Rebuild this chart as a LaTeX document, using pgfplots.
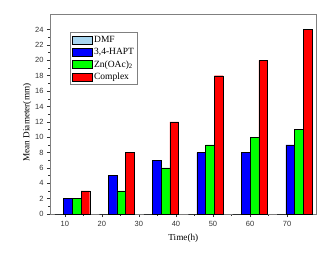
\documentclass[border=0pt]{standalone}
\usepackage{pgfplots}
\pgfplotsset{compat=1.18}
\usepackage{fontspec}
\setmainfont{Liberation Serif}
\newfontfamily\arialfont{Liberation Sans}
\definecolor{dmf}{RGB}{168,214,240}
\definecolor{framegray}{RGB}{128,128,128}
\begin{document}
\begin{tikzpicture}
\begin{axis}[
  at={(0,0)}, anchor=south west,
  scale only axis, width=266.7pt, height=199.7pt,
  xmin=6, xmax=78, ymin=0, ymax=26,
  xtick={10,20,...,70}, ytick={0,2,...,24},
  minor x tick num=1, minor y tick num=1,
  tick pos=left, tick align=outside,
  major tick length=3pt, minor tick length=1.8pt,
  every tick/.style={black!80, line width=0.5pt},
  axis line style={framegray, line width=0.7pt},
  /pgf/number format/assume math mode=true,
  ticklabel style={font=\arialfont\fontsize{7.5}{8}\selectfont, text=black!80},
  xticklabel style={yshift=-1pt},
  xlabel={Time(h)}, ylabel={Mean Diameter(mm)},
  label style={font=\fontsize{9.2}{10}\selectfont},
  xlabel style={at={(axis description cs:0.5,-0.12)}, anchor=center},
  ylabel style={at={(axis description cs:-0.086,0.458)}, anchor=center, rotate=0},
  ybar, bar width=2.35, bar shift=0pt,
  every axis plot/.append style={draw=black, line width=0.4pt},
  legend image code/.code={\draw[#1, draw=black, line width=0.4pt] (0pt,-4pt) rectangle (20pt,4pt);},
  legend style={at={(axis description cs:0.075,0.91)}, anchor=north west,
    draw=framegray, line width=0.5pt, font=\fontsize{9.5}{10}\selectfont,
    inner sep=1.5pt, row sep=0.5pt, cells={anchor=west}},
]
\addplot[fill=dmf] coordinates {(8.5,0) (20.5,0) (32.5,0) (44.5,0) (56.5,0) (68.5,0)};
\addplot[fill=blue] coordinates {(10.85,2) (22.85,5) (34.85,7) (46.85,8) (58.85,8) (70.85,9)};
\addplot[fill=green] coordinates {(13.2,2) (25.2,3) (37.2,6) (49.2,9) (61.2,10) (73.2,11)};
\addplot[fill=red] coordinates {(15.55,3) (27.55,8) (39.55,12) (51.55,18) (63.55,20) (75.55,24)};
\legend{DMF, {3,4-HAPT}, {Zn(OAc)\textsubscript{2}}, Complex}
\end{axis}
\pgfresetboundingbox
\path (-50pt,-44pt) rectangle (285pt,214pt);
\end{tikzpicture}
\end{document}
